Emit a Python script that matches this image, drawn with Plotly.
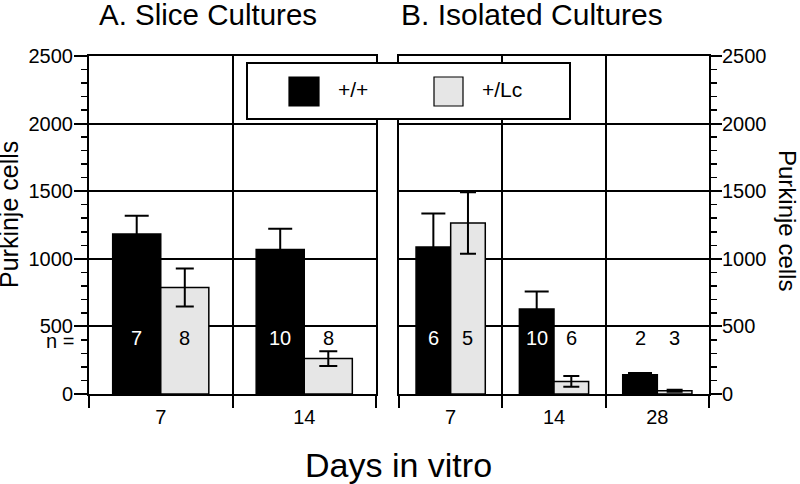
import plotly.graph_objects as go

# ---------------- data ----------------
slice_days = ["7", "14"]
slice_wt = [1183, 1068]
slice_wt_err = [135, 155]
slice_lc = [788, 262]
slice_lc_err = [140, 55]
slice_n_wt = [7, 10]
slice_n_lc = [8, 8]

iso_days = ["7", "14", "28"]
iso_wt = [1087, 629, 143]
iso_wt_err = [248, 130, 12]
iso_lc = [1265, 93, 24]
iso_lc_err = [228, 40, 8]
iso_n_wt = [6, 10, 2]
iso_n_lc = [5, 6, 3]

n_label_y = 415
y_ticks = [0, 500, 1000, 1500, 2000, 2500]

# ---------------- layout helpers ----------------
W, H = 800, 484
ML, MR, MT, MB = 89, 91, 56, 90
PW = W - ML - MR  # 620
PH = H - MT - MB  # 338
FONT = "Liberation Sans, Arial, Helvetica, sans-serif"
BLACK = "black"
GREY = "#e6e6e6"
LW = 2


def px_x(px):
    """page pixel x -> paper x"""
    return (px - ML) / PW


def px_y(py):
    """page pixel y -> paper y"""
    return (H - MB - py) / PH


fig = go.Figure()

fig.add_trace(go.Bar(x=slice_days, y=slice_wt, name="+/+", marker=dict(color=BLACK, line=dict(color=BLACK, width=1.5)),
                     error_y=dict(type="data", array=slice_wt_err, color=BLACK, thickness=LW, width=12),
                     xaxis="x", yaxis="y", showlegend=False))
fig.add_trace(go.Bar(x=slice_days, y=slice_lc, name="+/Lc", marker=dict(color=GREY, line=dict(color=BLACK, width=1.5)),
                     error_y=dict(type="data", array=slice_lc_err, color=BLACK, thickness=LW, width=9),
                     xaxis="x", yaxis="y", showlegend=False))
fig.add_trace(go.Bar(x=iso_days, y=iso_wt, name="+/+", marker=dict(color=BLACK, line=dict(color=BLACK, width=1.5)),
                     error_y=dict(type="data", array=iso_wt_err, color=BLACK, thickness=LW, width=12),
                     xaxis="x2", yaxis="y2", showlegend=False))
fig.add_trace(go.Bar(x=iso_days, y=iso_lc, name="+/Lc", marker=dict(color=GREY, line=dict(color=BLACK, width=1.5)),
                     error_y=dict(type="data", array=iso_lc_err, color=BLACK, thickness=LW, width=8),
                     xaxis="x2", yaxis="y2", showlegend=False))

BARGAP = 0.33
half = (1 - BARGAP) / 4  # offset of each bar centre from category centre

annotations = []
for xref, yref, days, wt, nwt, nlc in [("x", "y", slice_days, slice_wt, slice_n_wt, slice_n_lc),
                                       ("x2", "y2", iso_days, iso_wt, iso_n_wt, iso_n_lc)]:
    for i in range(len(days)):
        annotations.append(dict(x=i - half, y=n_label_y, xref=xref, yref=yref, text=str(nwt[i]), showarrow=False,
                                font=dict(size=20, color="white" if wt[i] > n_label_y + 60 else BLACK, family=FONT)))
        annotations.append(dict(x=i + half, y=n_label_y, xref=xref, yref=yref, text=str(nlc[i]), showarrow=False,
                                font=dict(size=20, color=BLACK, family=FONT)))

annotations.append(dict(x=px_x(76), y=390, xref="paper", yref="y", text="n =", xanchor="right", showarrow=False,
                        font=dict(size=20, color=BLACK, family=FONT)))
annotations.append(dict(x=px_x(97), y=px_y(14), xref="paper", yref="paper", text="A. Slice Cultures", xanchor="left",
                        yanchor="middle", showarrow=False, font=dict(size=29.5, color=BLACK, family=FONT)))
annotations.append(dict(x=px_x(399), y=px_y(14), xref="paper", yref="paper", text="B. Isolated Cultures", xanchor="left",
                        yanchor="middle", showarrow=False, font=dict(size=30, color=BLACK, family=FONT)))
annotations.append(dict(x=px_x(398), y=px_y(465), xref="paper", yref="paper", text="Days in vitro", xanchor="center",
                        yanchor="middle", showarrow=False, font=dict(size=34, color=BLACK, family=FONT)))
annotations.append(dict(x=px_x(9), y=px_y(215), xref="paper", yref="paper", text="Purkinje cells", textangle=-90,
                        xanchor="center", yanchor="middle", showarrow=False, font=dict(size=25, color=BLACK, family=FONT)))
annotations.append(dict(x=px_x(788), y=px_y(220), xref="paper", yref="paper", text="Purkinje cells", textangle=90,
                        xanchor="center", yanchor="middle", showarrow=False, font=dict(size=24, color=BLACK, family=FONT)))

# manual legend
annotations.append(dict(x=px_x(336), y=px_y(90), xref="paper", yref="paper", text="+/+", xanchor="left",
                        yanchor="middle", showarrow=False, font=dict(size=21, color=BLACK, family=FONT)))
annotations.append(dict(x=px_x(480), y=px_y(90), xref="paper", yref="paper", text="+/Lc", xanchor="left",
                        yanchor="middle", showarrow=False, font=dict(size=21, color=BLACK, family=FONT)))

shapes = [
    dict(type="rect", xref="paper", yref="paper", x0=px_x(247), x1=px_x(570), y0=px_y(119), y1=px_y(63),
         line=dict(color=BLACK, width=LW), fillcolor="white", layer="above"),
    dict(type="rect", xref="paper", yref="paper", x0=px_x(289), x1=px_x(319), y0=px_y(106), y1=px_y(77),
         line=dict(color=BLACK, width=1.2), fillcolor=BLACK, layer="above"),
    dict(type="rect", xref="paper", yref="paper", x0=px_x(434), x1=px_x(463), y0=px_y(106), y1=px_y(77),
         line=dict(color=BLACK, width=1.2), fillcolor=GREY, layer="above"),
]

xcommon = dict(type="category", tickson="boundaries", ticks="outside", ticklen=12, tickwidth=LW, tickcolor=BLACK,
               showgrid=True, gridcolor=BLACK, gridwidth=LW, showline=True, linecolor=BLACK, linewidth=LW,
               mirror=True, tickfont=dict(size=20, color=BLACK, family=FONT), zeroline=False,
               ticklabelstandoff=4)


def ycommon(ticklen, standoff):
    return dict(range=[0, 2500], tickvals=y_ticks, ticks="outside", ticklen=ticklen, tickwidth=LW, tickcolor=BLACK,
                showgrid=True, gridcolor=BLACK, gridwidth=LW, showline=True, linecolor=BLACK, linewidth=LW,
                mirror=True, zeroline=False, tickfont=dict(size=20, color=BLACK, family=FONT),
                ticklabelstandoff=standoff,
                minor=dict(ticks="outside", ticklen=6, tickwidth=1.5, tickcolor=BLACK, dtick=100, tick0=0,
                           showgrid=False))


fig.update_layout(
    width=W, height=H,
    margin=dict(l=ML, r=MR, t=MT, b=MB, autoexpand=False),
    paper_bgcolor="white", plot_bgcolor="white",
    barmode="group", bargap=BARGAP, bargroupgap=0,
    font=dict(family=FONT, color=BLACK),
    xaxis=dict(domain=[0, px_x(376)], anchor="y", range=[-0.5, 1.5], **xcommon),
    xaxis2=dict(domain=[px_x(399), 1], anchor="y2", range=[-0.5, 2.5], **xcommon),
    yaxis=dict(anchor="x", side="left", **ycommon(13, -3)),
    yaxis2=dict(anchor="x2", side="right", **ycommon(11, -4)),
    annotations=annotations,
    shapes=shapes,
    showlegend=False,
)

# place the 800x484 figure flush with the page corner (remove default body margin)
fig.write_html("out.html",
               config={"displayModeBar": False, "staticPlot": True},
               post_script="document.body.style.margin='0';document.documentElement.style.margin='0';")
